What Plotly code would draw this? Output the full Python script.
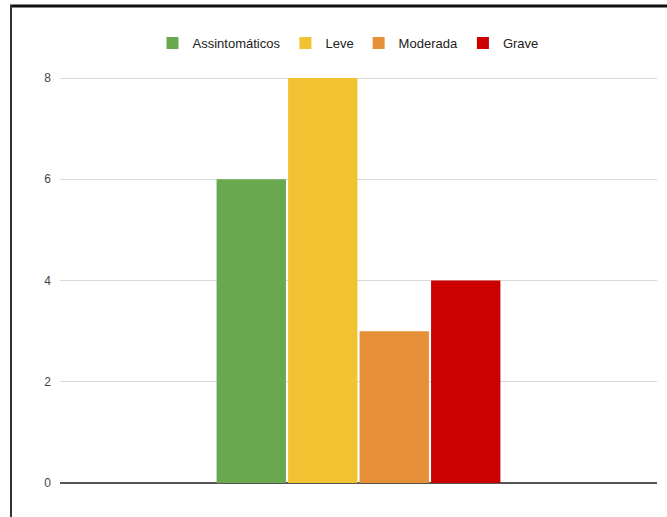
import plotly.graph_objects as go

series_names = ["Assintomáticos", "Leve", "Moderada", "Grave"]
series_values = [6, 8, 3, 4]
series_colors = ["#6aa84f", "#f1c232", "#e69138", "#cc0000"]
category = [""]
y_ticks = [0, 2, 4, 6, 8]

W, H = 667, 517
L, R, T, B = 60, 10, 74, 34
pw = W - L - R
ph = H - T - B

def px_x(px):
    return (px - L) / pw

def px_y(py):
    return (H - B - py) / ph

fig = go.Figure()
for name, val, col in zip(series_names, series_values, series_colors):
    fig.add_trace(go.Bar(
        x=category, y=[val], name=name,
        marker=dict(color=col, line=dict(width=0)),
    ))

fig.update_layout(
    width=W, height=H,
    margin=dict(l=L, r=R, t=T, b=B),
    paper_bgcolor="white", plot_bgcolor="white",
    barmode="group", bargap=0.521, bargroupgap=0.03,
    font=dict(family="Liberation Sans, Arial, sans-serif", size=12, color="#444"),
    showlegend=True,
    legend=dict(
        orientation="h", x=px_x(348), xanchor="center", y=px_y(43), yanchor="middle",
        font=dict(size=13, color="#222"), itemwidth=30, tracegroupgap=0,
        bgcolor="rgba(0,0,0,0)",
    ),
    xaxis=dict(showgrid=False, showticklabels=False, showline=False, zeroline=False, fixedrange=True),
    yaxis=dict(
        range=[0, 8.08], tickvals=y_ticks, ticktext=[str(v) for v in y_ticks],
        showgrid=True, gridcolor="#d9d9d9", gridwidth=1,
        zeroline=True, zerolinecolor="#555", zerolinewidth=2,
        showline=False, ticks="", ticklabelstandoff=8,
        tickfont=dict(size=12, color="#444"),
    ),
    shapes=[
        dict(type="line", xref="paper", yref="paper",
             x0=px_x(10), x1=px_x(667), y0=px_y(6), y1=px_y(6),
             line=dict(color="#111", width=3)),
        dict(type="line", xref="paper", yref="paper",
             x0=px_x(11), x1=px_x(11), y0=px_y(5), y1=px_y(517),
             line=dict(color="#333", width=2)),
    ],
)

fig.write_html("out.html")
